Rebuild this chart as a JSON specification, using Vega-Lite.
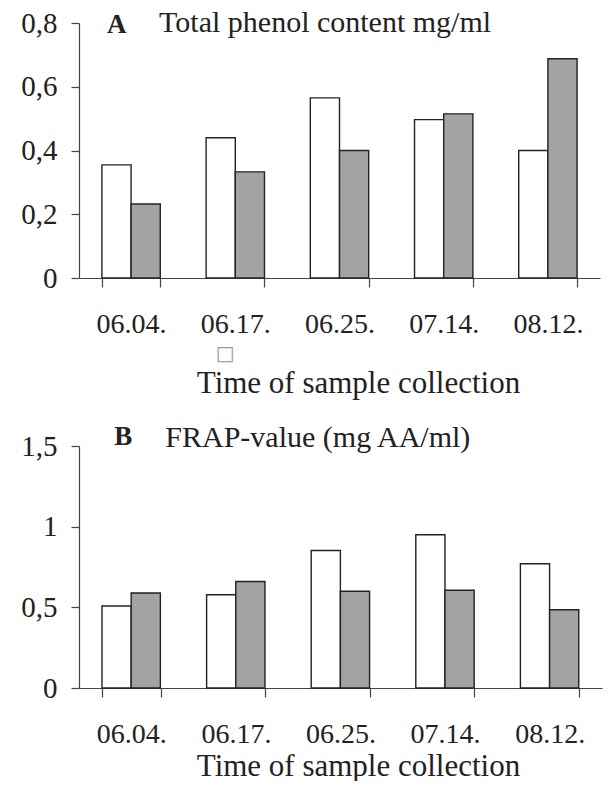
{
  "$schema": "https://vega.github.io/schema/vega-lite/v6.json",
  "background": "white",
  "padding": {"left": 20, "top": 8, "right": 3, "bottom": 0},
  "spacing": 25,
  "config": {
    "view": {"stroke": null},
    "font": "Liberation Serif",
    "axis": {
      "grid": false,
      "domainColor": "#444",
      "tickColor": "#444",
      "labelColor": "#222",
      "titleColor": "#222",
      "labelFont": "Liberation Serif",
      "titleFont": "Liberation Serif",
      "titleFontWeight": "normal",
      "domainWidth": 1.2,
      "tickWidth": 1.2
    }
  },
  "datasets": {
    "A": [
      {"date": "06.04.", "series": "white", "value": 0.355},
      {"date": "06.04.", "series": "gray", "value": 0.232},
      {"date": "06.17.", "series": "white", "value": 0.44},
      {"date": "06.17.", "series": "gray", "value": 0.333},
      {"date": "06.25.", "series": "white", "value": 0.565},
      {"date": "06.25.", "series": "gray", "value": 0.4},
      {"date": "07.14.", "series": "white", "value": 0.497},
      {"date": "07.14.", "series": "gray", "value": 0.515},
      {"date": "08.12.", "series": "white", "value": 0.4},
      {"date": "08.12.", "series": "gray", "value": 0.688}
    ],
    "B": [
      {"date": "06.04.", "series": "white", "value": 0.508},
      {"date": "06.04.", "series": "gray", "value": 0.589},
      {"date": "06.17.", "series": "white", "value": 0.578},
      {"date": "06.17.", "series": "gray", "value": 0.66},
      {"date": "06.25.", "series": "white", "value": 0.852},
      {"date": "06.25.", "series": "gray", "value": 0.6},
      {"date": "07.14.", "series": "white", "value": 0.95},
      {"date": "07.14.", "series": "gray", "value": 0.606},
      {"date": "08.12.", "series": "white", "value": 0.77},
      {"date": "08.12.", "series": "gray", "value": 0.485}
    ]
  },
  "vconcat": [
    {
      "width": 521,
      "height": 255,
      "layer": [
        {
          "data": {"name": "A"},
          "mark": {"type": "bar", "stroke": "#222", "strokeWidth": 1.4},
          "encoding": {
            "x": {
              "field": "date", "type": "nominal", "sort": null,
              "scale": {"paddingInner": 0.44, "paddingOuter": 0.22},
              "axis": {"title": "Time of sample collection", "labelAngle": 0, "labelFontSize": 28, "titleFontSize": 31, "tickBand": "extent", "tickSize": 9, "labelPadding": 23, "titlePadding": 30, "titleX": 279, "titleAlign": "center"}
            },
            "xOffset": {"field": "series", "type": "nominal", "sort": ["white", "gray"], "scale": {"paddingInner": 0, "paddingOuter": 0}},
            "y": {
              "field": "value", "type": "quantitative",
              "scale": {"domain": [0, 0.8], "nice": false},
              "axis": {"title": null, "values": [0, 0.2, 0.4, 0.6, 0.8], "format": "~g", "labelExpr": "replace(datum.label, '.', ',')", "labelFontSize": 29, "tickSize": 8, "labelPadding": 14}
            },
            "fill": {"field": "series", "type": "nominal", "sort": ["white", "gray"], "scale": {"domain": ["white", "gray"], "range": ["#ffffff", "#a3a3a3"]}, "legend": null}
          }
        },
        {
          "data": {"values": [{"t": "A"}]},
          "mark": {"type": "text", "fontWeight": "bold", "fontSize": 27, "align": "left", "baseline": "middle", "dx": -24, "dy": 2, "color": "#222"},
          "encoding": {"x": {"datum": "06.04."}, "y": {"datum": 0.8}, "text": {"field": "t"}}
        },
        {
          "data": {"values": [{"t": "Total phenol content mg/ml"}]},
          "mark": {"type": "text", "fontSize": 30, "align": "left", "baseline": "middle", "dx": 28, "dy": 0, "color": "#222"},
          "encoding": {"x": {"datum": "06.04."}, "y": {"datum": 0.8}, "text": {"field": "t"}}
        },
        {
          "data": {"values": [{"t": "□"}]},
          "mark": {"type": "text", "font": "DejaVu Sans", "fontSize": 20, "align": "center", "baseline": "middle", "dx": -10, "dy": 76, "color": "#999"},
          "encoding": {"x": {"datum": "06.17."}, "y": {"datum": 0}, "text": {"field": "t"}}
        }
      ]
    },
    {
      "width": 523,
      "height": 242,
      "layer": [
        {
          "data": {"name": "B"},
          "mark": {"type": "bar", "stroke": "#222", "strokeWidth": 1.4},
          "encoding": {
            "x": {
              "field": "date", "type": "nominal", "sort": null,
              "scale": {"paddingInner": 0.44, "paddingOuter": 0.22},
              "axis": {"title": "Time of sample collection", "labelAngle": 0, "labelFontSize": 28, "titleFontSize": 31, "tickBand": "extent", "tickSize": 9, "labelPadding": 23, "titlePadding": 3, "titleX": 279, "titleAlign": "center"}
            },
            "xOffset": {"field": "series", "type": "nominal", "sort": ["white", "gray"], "scale": {"paddingInner": 0, "paddingOuter": 0}},
            "y": {
              "field": "value", "type": "quantitative",
              "scale": {"domain": [0, 1.5], "nice": false},
              "axis": {"title": null, "values": [0, 0.5, 1, 1.5], "format": "~g", "labelExpr": "replace(datum.label, '.', ',')", "labelFontSize": 29, "tickSize": 8, "labelPadding": 14}
            },
            "fill": {"field": "series", "type": "nominal", "sort": ["white", "gray"], "scale": {"domain": ["white", "gray"], "range": ["#ffffff", "#a3a3a3"]}, "legend": null}
          }
        },
        {
          "data": {"values": [{"t": "B"}]},
          "mark": {"type": "text", "fontWeight": "bold", "fontSize": 27, "align": "left", "baseline": "middle", "dx": -17, "dy": -9, "color": "#222"},
          "encoding": {"x": {"datum": "06.04."}, "y": {"datum": 1.5}, "text": {"field": "t"}}
        },
        {
          "data": {"values": [{"t": "FRAP-value (mg AA/ml)"}]},
          "mark": {"type": "text", "fontSize": 30, "align": "left", "baseline": "middle", "dx": 34, "dy": -8, "color": "#222"},
          "encoding": {"x": {"datum": "06.04."}, "y": {"datum": 1.5}, "text": {"field": "t"}}
        }
      ]
    }
  ]
}
